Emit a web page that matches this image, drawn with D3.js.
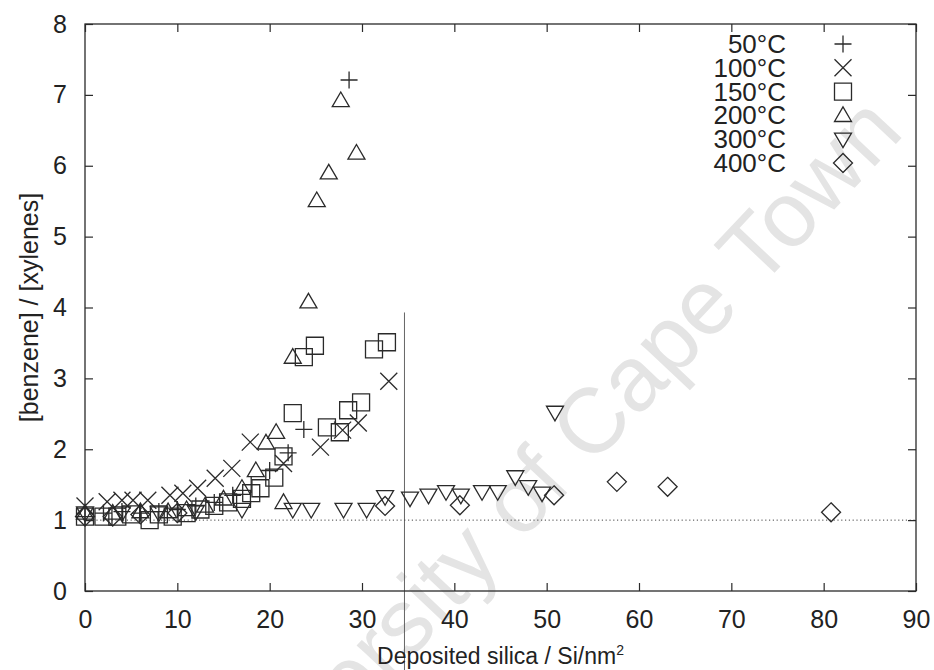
<!DOCTYPE html>
<html>
<head>
<meta charset="utf-8">
<script src="https://cdn.jsdelivr.net/npm/d3@7"></script>
<style>
  html, body { margin: 0; padding: 0; background: #fff; }
  svg { display: block; font-family: "Liberation Sans", Arial, sans-serif; }
</style>
</head>
<body>
<svg id="chart" width="934" height="670"></svg>
<script>
// Benzene / xylenes ratio against deposited silica, one series per temperature
const seriesNames = ["50°C", "100°C", "150°C", "200°C", "300°C", "400°C"];
const seriesSymbols = ["plus", "cross", "square", "triangle", "triangleDown", "diamond"];

const s50 = [[0,1.05],[2,1.1],[4,1.12],[6,1.1],[8,1.12],[10,1.15],[12,1.2],[14,1.25],[16,1.35],[18,1.5],[20,1.7],[22,1.95],[23.7,2.28],[28.6,7.21]];
const s100 = [[0,1.2],[2.4,1.26],[4,1.28],[5.2,1.28],[6.8,1.28],[9.2,1.35],[10.6,1.38],[12.2,1.45],[14.1,1.59],[15.9,1.73],[17.9,2.1],[21.5,1.8],[25.5,2.03],[27.9,2.27],[29.6,2.37],[32.9,2.96]];
const s150 = [[0,1.05],[2,1.05],[3.5,1.05],[5,1.08],[7,1.0],[8,1.08],[9.5,1.05],[11,1.1],[12.5,1.15],[14,1.2],[15.5,1.25],[17,1.3],[18,1.38],[19,1.45],[20.5,1.6],[21.5,1.9],[22.5,2.51],[23.7,3.3],[24.9,3.46],[26.2,2.31],[27.6,2.24],[28.5,2.55],[29.9,2.66],[31.3,3.41],[32.7,3.51]];
const s200 = [[0,1.1],[3,1.1],[6,1.12],[9,1.12],[11,1.15],[13,1.2],[15,1.3],[17,1.45],[18.5,1.7],[19.6,2.09],[20.7,2.24],[21.5,1.25],[22.5,3.3],[24.2,4.08],[25.1,5.51],[26.4,5.9],[27.7,6.92],[29.4,6.18]];
const s300 = [[0,1.1],[4,1.1],[8,1.1],[12,1.12],[17,1.15],[22.5,1.15],[24.5,1.15],[28,1.15],[30.5,1.15],[32.5,1.33],[35.2,1.31],[37.2,1.35],[39.1,1.4],[40.7,1.35],[43.0,1.4],[44.7,1.4],[46.6,1.61],[48.0,1.47],[49.5,1.38],[50.9,2.52]];
const s400 = [[0,1.05],[3,1.05],[6,1.08],[10,1.1],[32.5,1.2],[40.6,1.21],[50.8,1.35],[57.6,1.54],[63.1,1.47],[80.8,1.11]];
const allSeries = [s50, s100, s150, s200, s300, s400];

const xTicks = [0, 10, 20, 30, 40, 50, 60, 70, 80, 90];
const yTicks = [0, 1, 2, 3, 4, 5, 6, 7, 8];
const xTitle = "Deposited silica / Si/nm";
const yTitle = "[benzene] / [xylenes]";
const watermark = "University of Cape Town";

const svg = d3.select("#chart");
const margin = { left: 85, right: 18, top: 24, bottom: 79 };
const W = 934, H = 670;
const x = d3.scaleLinear().domain([0, 90]).range([margin.left, W - margin.right]);
const y = d3.scaleLinear().domain([0, 8]).range([H - margin.bottom, margin.top]);
const ink = "#2a2a2a";

// faint diagonal watermark behind everything
svg.append("text")
  .attr("transform", "translate(566,494) rotate(-46.7)")
  .attr("text-anchor", "middle")
  .attr("font-size", 92)
  .attr("fill", "#e4e4e4")
  .text(watermark);

// thin vertical rule across the lower half
svg.append("line")
  .attr("x1", x(34.6)).attr("x2", x(34.6))
  .attr("y1", y(3.93)).attr("y2", H)
  .attr("stroke", "#555").attr("stroke-width", 0.9);

// reference line at ratio = 1
svg.append("line")
  .attr("x1", x(0)).attr("x2", x(90))
  .attr("y1", y(1)).attr("y2", y(1))
  .attr("stroke", "#444").attr("stroke-width", 1)
  .attr("stroke-dasharray", "1.2,2.6");

// frame
svg.append("rect")
  .attr("x", x(0)).attr("y", y(8))
  .attr("width", x(90) - x(0)).attr("height", y(0) - y(8))
  .attr("fill", "none").attr("stroke", ink).attr("stroke-width", 1.3);

// inward ticks on all four sides
const tickLen = 8;
const axisBottom = d3.axisBottom(x).tickValues(xTicks).tickSizeInner(-tickLen).tickSizeOuter(0).tickPadding(19).tickFormat(d3.format("d"));
const axisTop = d3.axisTop(x).tickValues(xTicks).tickSizeInner(-tickLen).tickSizeOuter(0).tickFormat("");
const axisLeft = d3.axisLeft(y).tickValues(yTicks).tickSizeInner(-tickLen).tickSizeOuter(0).tickPadding(18).tickFormat(d3.format("d"));
const axisRight = d3.axisRight(y).tickValues(yTicks).tickSizeInner(-tickLen).tickSizeOuter(0).tickFormat("");

function styleAxis(g) {
  g.select(".domain").remove();
  g.selectAll(".tick line").attr("stroke", ink).attr("stroke-width", 1.2);
  g.selectAll(".tick text").attr("fill", "#222").attr("font-size", 25).attr("font-family", "Liberation Sans, Arial, sans-serif");
}
svg.append("g").attr("transform", `translate(0,${y(0)})`).call(axisBottom).call(styleAxis);
svg.append("g").attr("transform", `translate(0,${y(8)})`).call(axisTop).call(styleAxis);
svg.append("g").attr("transform", `translate(${x(0)},0)`).call(axisLeft).call(styleAxis);
svg.append("g").attr("transform", `translate(${x(90)},0)`).call(axisRight).call(styleAxis);

// axis titles
const xt = svg.append("text")
  .attr("x", (x(0) + x(90)) / 2).attr("y", 664)
  .attr("text-anchor", "middle").attr("font-size", 23).attr("fill", "#222")
  .text(xTitle);
xt.append("tspan").attr("dy", -9).attr("font-size", 14).text("2");

svg.append("text")
  .attr("transform", `translate(38,${(y(0) + y(8)) / 2}) rotate(-90)`)
  .attr("text-anchor", "middle").attr("font-size", 25).attr("fill", "#222")
  .text(yTitle);

// point symbols
const S = 8.5;
function symbolPath(kind) {
  switch (kind) {
    case "plus": return `M${-S},0H${S}M0,${-S}V${S}`;
    case "cross": return `M${-S},${-S}L${S},${S}M${-S},${S}L${S},${-S}`;
    case "square": return `M${-S},${-S}H${S}V${S}H${-S}Z`;
    case "triangle": return `M0,${-S}L${S},${S * 0.72}H${-S}Z`;
    case "triangleDown": return `M0,${S}L${S},${-S * 0.72}H${-S}Z`;
    case "diamond": return `M0,${-S - 1}L${S + 1},0L0,${S + 1}L${-S - 1},0Z`;
  }
}

allSeries.forEach((data, i) => {
  const g = svg.append("g").attr("class", "series-" + i);
  g.selectAll("path")
    .data(data)
    .join("path")
    .attr("transform", d => `translate(${x(d[0])},${y(d[1])})`)
    .attr("d", symbolPath(seriesSymbols[i]))
    .attr("fill", "none")
    .attr("stroke", ink)
    .attr("stroke-width", 1.3);
});

// legend
const legendRows = d3.scaleLinear().domain([0, 5]).range([44, 163]);
const legend = svg.append("g");
seriesNames.forEach((name, i) => {
  legend.append("text")
    .attr("x", 786).attr("y", legendRows(i) + 9)
    .attr("text-anchor", "end").attr("font-size", 26).attr("fill", "#222")
    .text(name);
  legend.append("path")
    .attr("transform", `translate(843,${legendRows(i)})`)
    .attr("d", symbolPath(seriesSymbols[i]))
    .attr("fill", "none").attr("stroke", ink).attr("stroke-width", 1.3);
});
</script>
</body>
</html>
